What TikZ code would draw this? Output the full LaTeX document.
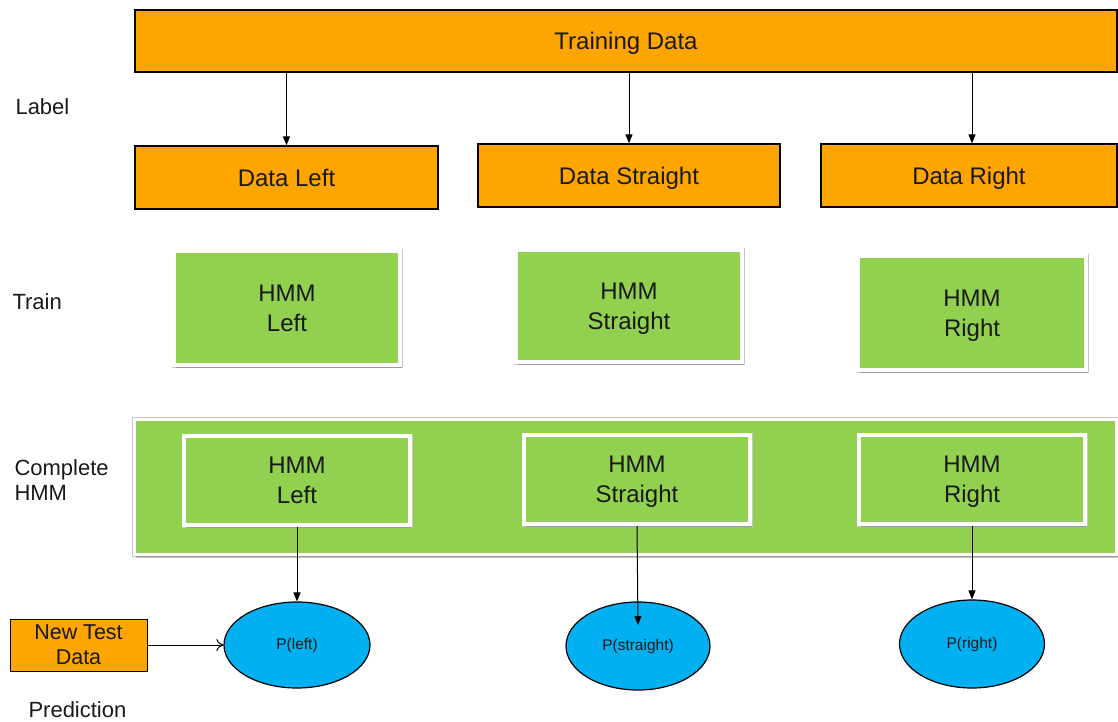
\documentclass[tikz,border=0pt]{standalone}
\usepackage{fontspec}
\setmainfont{Liberation Sans}
\usetikzlibrary{arrows.meta,shadows,shapes.geometric}
\definecolor{dataorange}{HTML}{FFA500}
\definecolor{hmmgreen}{HTML}{92D050}
\definecolor{probblue}{HTML}{00B0F0}
\begin{document}
\begin{tikzpicture}[x=1pt, y=-1pt,
  every node/.style={font=\fontsize{24}{30}\selectfont, text=black!90},
  databox/.style={draw, line width=1.3pt, fill=dataorange, inner sep=0pt,
    text depth=0pt},
  hmmbox/.style={draw=white, line width=3.5pt, fill=hmmgreen, inner sep=0pt,
    align=center, text depth=0pt, preaction={draw=black!22, line width=5pt},
    drop shadow={shadow xshift=1.5pt, shadow yshift=-3pt,
    opacity=0.35, fill=black!70}},
  probnode/.style={ellipse, draw, line width=1.2pt, fill=probblue, inner sep=0pt,
    font=\fontsize{15.5}{18}\selectfont},
  rowlabel/.style={anchor=west, align=left, font=\fontsize{22}{25}\selectfont},
  flow/.style={-{Triangle[length=9pt,width=7pt]}, line width=1pt}]
\useasboundingbox (0,0) rectangle (1118,722);
%
% ---- Data ----
\node[databox, minimum width=982pt, minimum height=62pt] (train) at (626,41) {Training Data};
\node[databox, minimum width=303pt, minimum height=63pt] (dleft) at (286.5,177.5) {Data Left};
\node[databox, minimum width=302pt, minimum height=63pt] (dstraight) at (629,175.5) {Data Straight};
\node[databox, minimum width=296pt, minimum height=63pt] (dright) at (969,175.5) {Data Right};
%
% ---- Trained models ----
\node[hmmbox, minimum width=226pt, minimum height=114pt] (tleft) at (287,308) {HMM\\Left};
\node[hmmbox, minimum width=226pt, minimum height=112pt] (tstraight) at (629,306) {HMM\\Straight};
\node[hmmbox, minimum width=228pt, minimum height=114pt] (tright) at (972,313) {HMM\\Right};
%
% ---- Complete HMM ----
\node[hmmbox, line width=3pt, minimum width=982pt, minimum height=135pt] (complete) at (625,487) {};
\node[hmmbox, minimum width=226pt, minimum height=89pt] (cleft) at (297,480.5) {HMM\\Left};
\node[hmmbox, minimum width=226pt, minimum height=89pt] (cstraight) at (637,479.5) {HMM\\Straight};
\node[hmmbox, minimum width=226pt, minimum height=89pt] (cright) at (972,479.5) {HMM\\Right};
%
% ---- Prediction ----
\node[probnode, minimum width=146pt, minimum height=86pt] (pleft) at (297,645) {P(left)};
\node[probnode, minimum width=144pt, minimum height=88pt] (pstraight) at (638,646) {P(straight)};
\node[probnode, minimum width=145pt, minimum height=88pt] (pright) at (972,644) {P(right)};
\node[databox, line width=1pt, minimum width=137pt, minimum height=52pt, align=center,
  font=\fontsize{21.5}{25}\selectfont] (newtest) at (78.5,645) {New Test\\Data};
%
% ---- Row labels ----
\node[rowlabel] (lbllabel) at (12,107) {Label};
\node[rowlabel] (lbltrain) at (9,302) {Train};
\node[rowlabel] (lblcomplete) at (11,480) {Complete\\HMM};
\node[rowlabel] (lblpred) at (25,710) {Prediction};
%
% ---- Arrows ----
\draw[flow] (dleft.north|-train.south) -- (dleft.north);
\draw[flow] (dstraight.north|-train.south) -- (dstraight.north);
\draw[flow] ([xshift=3pt]dright.north|-train.south) -- ([xshift=3pt]dright.north);
\draw[flow] (cleft.south) -- (pleft.north);
\draw[flow] (cstraight.south) -- ([yshift=21pt]pstraight.center);
\draw[flow] (cright.south) -- (pright.north);
\draw[-{To[length=7pt,width=12pt]}, line width=1pt] (newtest.east) -- (pleft.west);
\end{tikzpicture}
\end{document}
